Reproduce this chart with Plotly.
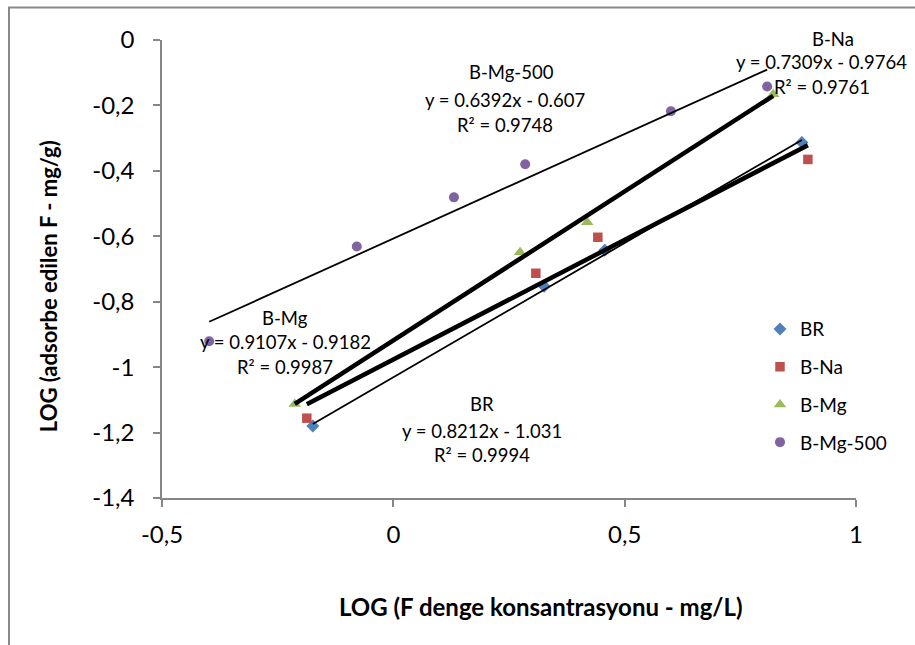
import plotly.graph_objects as go
import numpy as np

# ---- data ----
series_names = ["BR", "B-Na", "B-Mg", "B-Mg-500"]

br_x = [-0.174, 0.326, 0.457, 0.883]
br_y = [-1.180, -0.753, -0.643, -0.313]

na_x = [-0.187, 0.308, 0.442, 0.896]
na_y = [-1.156, -0.713, -0.603, -0.365]

mg_x = [-0.213, 0.274, 0.419, 0.821]
mg_y = [-1.113, -0.649, -0.557, -0.166]

mg500_x = [-0.398, -0.079, 0.131, 0.285, 0.600, 0.808]
mg500_y = [-0.921, -0.631, -0.481, -0.380, -0.218, -0.142]

# trendline coefficients (slope, intercept) and R²
slopes = [0.8212, 0.7309, 0.9107, 0.6392]
intercepts = [-1.031, -0.9764, -0.9182, -0.607]
eq_texts = ["y = 0.8212x - 1.031", "y = 0.7309x - 0.9764",
            "y = 0.9107x - 0.9182", "y = 0.6392x - 0.607"]
r2_texts = ["R² = 0.9994", "R² = 0.9761", "R² = 0.9987", "R² = 0.9748"]

x_tickvals = [-0.5, 0, 0.5, 1]
x_ticktext = ["-0,5", "0", "0,5", "1"]
y_tickvals = [0, -0.2, -0.4, -0.6, -0.8, -1, -1.2, -1.4]
y_ticktext = ["0", "-0,2", "-0,4", "-0,6", "-0,8", "-1", "-1,2", "-1,4"]

# ---- styling ----
colors = ["#4F81BD", "#C0504D", "#9BBB59", "#8064A2"]
symbols = ["diamond", "square", "triangle-up", "circle"]
msizes = [10, 9.5, 11, 10]
line_widths = [1.8, 4.5, 4.5, 1.8]
FONT = "Lato"

W, H = 915, 645
L, R, T, B = 162, 59, 39.5, 147
pw, ph = W - L - R, H - T - B


def px2paper(px, py):
    return (px - L) / pw, (H - B - py) / ph


xs = [br_x, na_x, mg_x, mg500_x]
ys = [br_y, na_y, mg_y, mg500_y]

fig = go.Figure()
for i, name in enumerate(series_names):
    fig.add_trace(go.Scatter(
        x=xs[i], y=ys[i], mode="markers", name=name,
        marker=dict(symbol=symbols[i], color=colors[i], size=msizes[i], line=dict(width=0)),
        legendgroup=name,
    ))

for i, name in enumerate(series_names):
    xl = np.array([min(xs[i]), max(xs[i])])
    yl = slopes[i] * xl + intercepts[i]
    fig.add_trace(go.Scatter(
        x=xl, y=yl, mode="lines", showlegend=False, hoverinfo="skip",
        line=dict(color="black", width=line_widths[i]),
    ))

# label line positions in pixels (centre x, centre y)
label_px = {
    "BR": [(482, 404), (482, 431), (482, 455)],
    "B-Na": [(833, 38), (821, 62), (822, 87)],
    "B-Mg": [(285, 318), (285, 342), (285, 367)],
    "B-Mg-500": [(511, 72), (505, 100), (505, 125)],
}
annotations = []
for i, name in enumerate(series_names):
    texts = [name, eq_texts[i], r2_texts[i]]
    for (px, py), t in zip(label_px[name], texts):
        ax, ay = px2paper(px, py)
        annotations.append(dict(x=ax, y=ay, xref="paper", yref="paper", text=t, showarrow=False,
                                xanchor="center", yanchor="middle",
                                font=dict(family=FONT, size=18.5, color="black")))

ax, ay = px2paper(541, 607)
annotations.append(dict(x=ax, y=ay, xref="paper", yref="paper",
                        text="<b>LOG (F denge konsantrasyonu - mg/L)</b>",
                        xanchor="center", yanchor="middle",
                        showarrow=False, font=dict(family=FONT, size=24, color="black")))
ax, ay = px2paper(48, 286)
annotations.append(dict(x=ax, y=ay, xref="paper", yref="paper",
                        text="<b>LOG (adsorbe edilen F - mg/g)</b>",
                        xanchor="center", yanchor="middle",
                        showarrow=False, textangle=-90, font=dict(family=FONT, size=22, color="black")))

lx, ly = px2paper(760, 310)
bx0, by1 = px2paper(9, 7)
bx1, by0 = px2paper(940, 670)

fig.update_layout(
    width=W, height=H,
    margin=dict(l=L, r=R, t=T, b=B, pad=0),
    paper_bgcolor="white", plot_bgcolor="white",
    font=dict(family=FONT, size=18, color="black"),
    showlegend=True,
    legend=dict(x=lx, y=ly, xanchor="left", yanchor="top",
                font=dict(family=FONT, size=19, color="black"),
                tracegroupgap=10, bgcolor="rgba(0,0,0,0)", itemwidth=30),
    annotations=annotations,
    shapes=[dict(type="rect", xref="paper", yref="paper",
                 x0=bx0, x1=bx1, y0=by0, y1=by1,
                 line=dict(color="#888888", width=2), fillcolor="rgba(0,0,0,0)", layer="below")],
    xaxis=dict(range=[-0.5, 1], tickvals=x_tickvals, ticktext=x_ticktext,
               showgrid=False, zeroline=False, showline=True, linecolor="#868686", linewidth=1.5,
               ticks="outside", ticklen=7, tickcolor="#868686", tickwidth=1.5,
               ticklabelstandoff=7, tickfont=dict(family=FONT, size=24)),
    yaxis=dict(range=[-1.4, 0], tickvals=y_tickvals, ticktext=y_ticktext,
               showgrid=False, zeroline=False, showline=True, linecolor="#868686", linewidth=1.5,
               ticks="outside", ticklen=7, tickcolor="#868686", tickwidth=1.5,
               ticklabelstandoff=14, tickfont=dict(family=FONT, size=24)),
)

fig.write_html("out.html")
